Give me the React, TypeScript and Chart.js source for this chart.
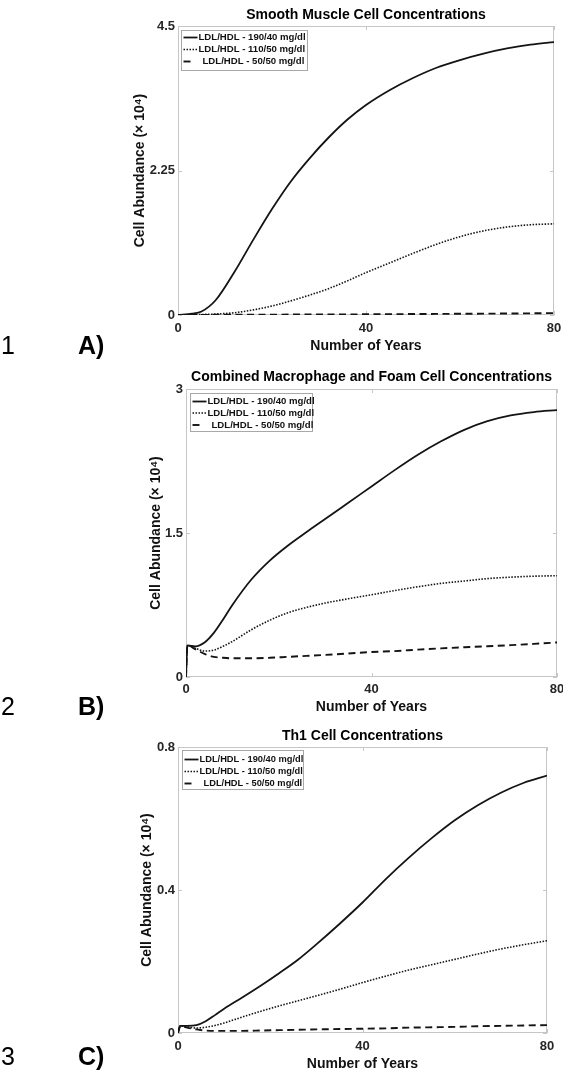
import React, { useEffect, useRef } from 'react';
import { Chart, registerables } from 'chart.js';

Chart.register(...registerables);

const FONT = '"Liberation Sans", Arial, Helvetica, sans-serif';

// ---------- data ----------
const seriesLabels = ['LDL/HDL - 190/40 mg/dl', 'LDL/HDL - 110/50 mg/dl', 'LDL/HDL - 50/50 mg/dl'];
const xTicks = [0, 40, 80];

// Panel A: smooth muscle cells
const yearsA = [0, 3, 5, 8, 12, 16, 20, 24, 28, 32, 36, 40, 45, 50, 55, 60, 65, 70, 75, 80];
const smcHigh = [0, 0.02, 0.055, 0.23, 0.67, 1.17, 1.65, 2.08, 2.44, 2.76, 3.04, 3.27, 3.5, 3.69, 3.85, 3.97, 4.07, 4.15, 4.21, 4.25];
const smcMid = [0, 0.003, 0.007, 0.015, 0.035, 0.08, 0.14, 0.22, 0.31, 0.41, 0.53, 0.66, 0.81, 0.96, 1.1, 1.22, 1.31, 1.37, 1.405, 1.42];
const smcLow = [0, 0.001, 0.002, 0.003, 0.004, 0.005, 0.006, 0.007, 0.008, 0.009, 0.01, 0.011, 0.013, 0.015, 0.017, 0.019, 0.021, 0.023, 0.026, 0.03];
const yTicksA = [0, 2.25, 4.5];

// Panel B: macrophage + foam cells
const yearsB = [0, 0.3, 2, 4, 6, 8, 10, 14, 18, 22, 26, 30, 35, 40, 45, 50, 55, 60, 65, 70, 75, 80];
const macHigh = [0, 0.33, 0.32, 0.36, 0.46, 0.6, 0.75, 1.01, 1.21, 1.37, 1.51, 1.645, 1.815, 1.985, 2.155, 2.315, 2.455, 2.575, 2.665, 2.725, 2.76, 2.78];
const macMid = [0, 0.33, 0.3, 0.27, 0.28, 0.32, 0.37, 0.49, 0.59, 0.67, 0.725, 0.77, 0.815, 0.857, 0.9, 0.94, 0.975, 1.0, 1.025, 1.04, 1.05, 1.055];
const macLow = [0, 0.33, 0.29, 0.24, 0.21, 0.2, 0.195, 0.195, 0.2, 0.21, 0.22, 0.23, 0.245, 0.26, 0.27, 0.285, 0.298, 0.31, 0.32, 0.332, 0.345, 0.36];
const yTicksB = [0, 1.5, 3];

// Panel C: Th1 cells
const yearsC = [0, 0.5, 2, 4, 6, 8, 10, 14, 18, 22, 26, 30, 35, 40, 45, 50, 55, 60, 65, 70, 75, 80];
const th1High = [0, 0.02, 0.02, 0.022, 0.033, 0.05, 0.068, 0.1, 0.133, 0.168, 0.205, 0.248, 0.305, 0.365, 0.43, 0.49, 0.545, 0.595, 0.637, 0.672, 0.7, 0.72];
const th1Mid = [0, 0.02, 0.017, 0.014, 0.016, 0.021, 0.028, 0.045, 0.061, 0.076, 0.09, 0.104, 0.122, 0.141, 0.159, 0.176, 0.191, 0.206, 0.221, 0.235, 0.247, 0.258];
const th1Low = [0, 0.02, 0.015, 0.01, 0.007, 0.006, 0.006, 0.006, 0.007, 0.008, 0.009, 0.01, 0.011, 0.012, 0.013, 0.015, 0.016, 0.017, 0.019, 0.02, 0.021, 0.022];
const yTicksC = [0, 0.4, 0.8];

// ---------- styles ----------
const lineDashes: number[][] = [[], [1.5, 1.5], [7, 4.5]];
const lineWidths = [1.8, 1.6, 1.9];
const legendDashes: number[][] = [[], [1.5, 1.5], [7, 20]];
const legendTextOffsets = [17, 17, 21];

type PanelCfg = {
  title: string;
  years: number[];
  series: number[][];
  yTicks: number[];
  top: number;
  height: number;
  left: number;
  padRight: number;
  titleTop: number;
  titleBottom: number;
  xAxisH: number;
  xTickPad: number;
  xTitleBottom: number;
  yTitlePad: number;
  legend: { dx: number; dy: number; w: number; h: number; font: number; rows: number[] };
  label: { num: string; letter: string; cy: number };
};

const panels: PanelCfg[] = [
  {
    title: 'Smooth Muscle Cell Concentrations',
    years: yearsA,
    series: [smcHigh, smcMid, smcLow],
    yTicks: yTicksA,
    top: 0, height: 360, left: 178, padRight: 9,
    titleTop: 7.1, titleBottom: 2.1, xAxisH: 45, xTickPad: 6, xTitleBottom: 5.1, yTitlePad: 131.6,
    legend: { dx: 3, dy: 4, w: 126, h: 40, font: 9.6, rows: [7, 19, 31] },
    label: { num: '1', letter: 'A)', cy: 345 },
  },
  {
    title: 'Combined Macrophage and Foam Cell Concentrations',
    years: yearsB,
    series: [macHigh, macMid, macLow],
    yTicks: yTicksB,
    top: 360, height: 360, left: 186, padRight: 6,
    titleTop: 9.1, titleBottom: 3.1, xAxisH: 43, xTickPad: 5, xTitleBottom: 4.6, yTitlePad: 147.6,
    legend: { dx: 4, dy: 4, w: 122, h: 38, font: 9.6, rows: [8, 19.5, 31.5] },
    label: { num: '2', letter: 'B)', cy: 706 },
  },
  {
    title: 'Th1 Cell Concentrations',
    years: yearsC,
    series: [th1High, th1Mid, th1Low],
    yTicks: yTicksC,
    top: 720, height: 355, left: 178, padRight: 16,
    titleTop: 7.6, titleBottom: 2.6, xAxisH: 42, xTickPad: 6, xTitleBottom: 2.6, yTitlePad: 138.6,
    legend: { dx: 4, dy: 3, w: 121, h: 39, font: 9.3, rows: [9, 21, 33] },
    label: { num: '3', letter: 'C)', cy: 1056 },
  },
];

const BOX = '#c6c6c6';

const framePlugin = {
  id: 'frame',
  beforeDatasetsDraw(chart: any) {
    const { ctx, chartArea } = chart;
    const { left, top, right, bottom } = chartArea;
    const xs = chart.scales.x;
    const ys = chart.scales.y;
    ctx.save();
    ctx.strokeStyle = BOX;
    ctx.lineWidth = 1;
    ctx.strokeRect(Math.round(left) + 0.5, Math.round(top) + 0.5, Math.round(right - left) - 1, Math.round(bottom - top) - 1);
    ctx.beginPath();
    const tl = 4;
    xs.ticks.forEach((t: any) => {
      const px = Math.round(xs.getPixelForValue(t.value)) + 0.5;
      ctx.moveTo(px, bottom);
      ctx.lineTo(px, bottom - tl);
      ctx.moveTo(px, top);
      ctx.lineTo(px, top + tl);
    });
    ys.ticks.forEach((t: any) => {
      const py = Math.round(ys.getPixelForValue(t.value)) + 0.5;
      ctx.moveTo(left, py);
      ctx.lineTo(left + tl, py);
      ctx.moveTo(right, py);
      ctx.lineTo(right - tl, py);
    });
    ctx.stroke();
    ctx.restore();
  },
  afterDatasetsDraw(chart: any, _args: any, opts: any) {
    const lg = opts.legend;
    if (!lg) return;
    const { ctx, chartArea } = chart;
    const x0 = Math.round(chartArea.left + lg.dx) + 0.5;
    const y0 = Math.round(chartArea.top + lg.dy) + 0.5;
    ctx.save();
    ctx.fillStyle = '#ffffff';
    ctx.fillRect(x0, y0, lg.w, lg.h);
    ctx.strokeStyle = '#a8a8a8';
    ctx.lineWidth = 1;
    ctx.strokeRect(x0, y0, lg.w, lg.h);
    ctx.font = `bold ${lg.font}px ${FONT}`;
    ctx.textBaseline = 'middle';
    ctx.textAlign = 'left';
    chart.data.datasets.forEach((ds: any, i: number) => {
      const yy = y0 + lg.rows[i];
      ctx.beginPath();
      ctx.setLineDash(legendDashes[i]);
      ctx.strokeStyle = ds.borderColor;
      ctx.lineWidth = ds.borderWidth;
      ctx.moveTo(x0 + 2, yy);
      ctx.lineTo(x0 + 16, yy);
      ctx.stroke();
      ctx.setLineDash([]);
      ctx.fillStyle = '#111';
      ctx.fillText(ds.label, x0 + legendTextOffsets[i], yy);
    });
    ctx.restore();
  },
};

function Panel({ cfg }: { cfg: PanelCfg }) {
  const ref = useRef<HTMLCanvasElement>(null);
  useEffect(() => {
    const canvas = ref.current;
    if (!canvas) return;
    const tickFont = { family: FONT, size: 13, weight: 'bold' as const };
    const titleFont = { family: FONT, size: 14, weight: 'bold' as const };
    const chart = new Chart(canvas, {
      type: 'line',
      data: {
        datasets: cfg.series.map((s, i) => ({
          label: seriesLabels[i],
          data: cfg.years.map((x, j) => ({ x, y: s[j] })),
          borderColor: '#141414',
          borderWidth: lineWidths[i],
          borderDash: lineDashes[i],
          pointRadius: 0,
          fill: false,
          cubicInterpolationMode: 'monotone' as const,
        })),
      },
      options: {
        responsive: false,
        maintainAspectRatio: false,
        animation: false,
        devicePixelRatio: 1,
        events: [],
        layout: { padding: { left: 0, right: cfg.padRight, top: 0, bottom: 0 } },
        plugins: {
          legend: { display: false },
          tooltip: { enabled: false },
          title: {
            display: true,
            text: cfg.title,
            fullSize: false,
            color: '#000',
            font: titleFont,
            padding: { top: cfg.titleTop, bottom: cfg.titleBottom },
          },
          frame: { legend: cfg.legend },
        } as any,
        scales: {
          x: {
            type: 'linear',
            min: 0,
            max: 80,
            afterBuildTicks: (s: any) => {
              s.ticks = xTicks.map((v) => ({ value: v }));
            },
            afterFit: (s: any) => {
              s.height = cfg.xAxisH;
              s.paddingLeft = 0;
              s.paddingRight = 0;
            },
            grid: { display: false, drawTicks: false },
            border: { display: false },
            ticks: {
              padding: cfg.xTickPad,
              font: tickFont,
              color: '#262626',
              maxRotation: 0,
              autoSkip: false,
              callback: (v: any) => String(v),
            },
            title: {
              display: true,
              text: 'Number of Years',
              color: '#111',
              font: titleFont,
              padding: { top: 0, bottom: cfg.xTitleBottom },
            },
          },
          y: {
            type: 'linear',
            min: 0,
            max: cfg.yTicks[cfg.yTicks.length - 1],
            afterBuildTicks: (s: any) => {
              s.ticks = cfg.yTicks.map((v) => ({ value: v }));
            },
            afterFit: (s: any) => {
              s.width = cfg.left;
            },
            grid: { display: false, drawTicks: false },
            border: { display: false },
            ticks: {
              padding: 3,
              font: tickFont,
              color: '#262626',
              autoSkip: false,
              callback: (v: any) => String(v),
            },
            title: {
              display: true,
              text: 'Cell Abundance (× 10⁴)',
              color: '#111',
              font: titleFont,
              padding: { top: cfg.yTitlePad, bottom: 0 },
            },
          },
        },
      },
      plugins: [framePlugin as any],
    });
    return () => chart.destroy();
  }, [cfg]);
  return (
    <canvas
      ref={ref}
      width={563}
      height={cfg.height}
      style={{ position: 'absolute', left: 0, top: cfg.top, width: 563, height: cfg.height, display: 'block' }}
    />
  );
}

export default function App() {
  const fs = 25;
  return (
    <div
      style={{
        position: 'absolute',
        left: 0,
        top: 0,
        width: 563,
        height: 1075,
        overflow: 'hidden',
        background: '#fff',
        fontFamily: FONT,
      }}
    >
      {panels.map((p, i) => (
        <React.Fragment key={i}>
          <Panel cfg={p} />
          <div style={{ position: 'absolute', left: 1, top: p.label.cy - fs * 0.49, fontSize: fs, lineHeight: 1, color: '#000' }}>
            {p.label.num}
          </div>
          <div style={{ position: 'absolute', left: 78, top: p.label.cy - fs * 0.49, fontSize: fs, lineHeight: 1, fontWeight: 'bold', color: '#000' }}>
            {p.label.letter}
          </div>
        </React.Fragment>
      ))}
    </div>
  );
}
